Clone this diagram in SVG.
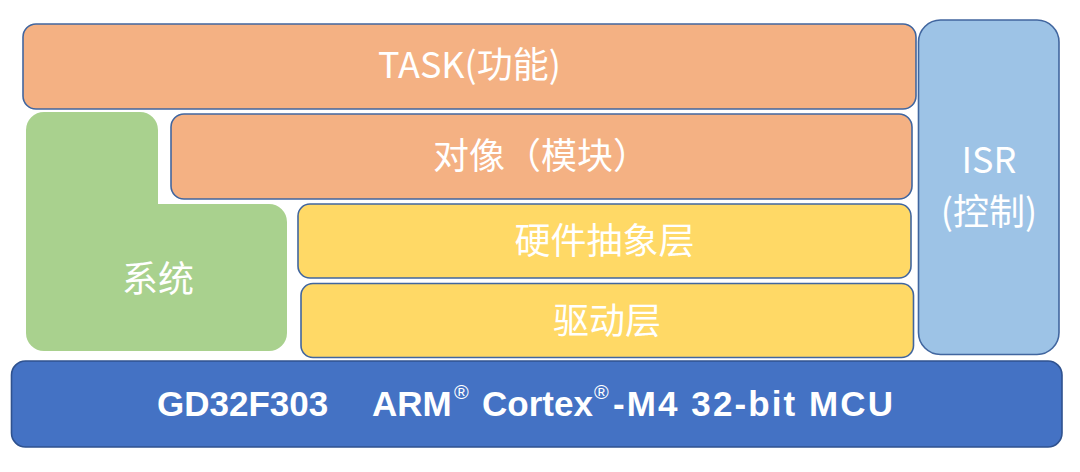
<svg xmlns="http://www.w3.org/2000/svg" width="1080" height="472" viewBox="0 0 1080 472">
<style>
.box{stroke:#41669F;stroke-width:1.6}
.orange{fill:#F4B183}
.yellow{fill:#FFD966}
.lblue{fill:#9DC3E6}
.blue{fill:#4472C4;stroke:#2F528F}
.green{fill:#A9D18E}
.t{font-family:"Noto Sans CJK SC","Noto Sans",sans-serif;font-size:36px;fill:#FFFFFF;text-anchor:middle}
.b{font-family:"Liberation Sans",Arial,sans-serif;font-size:35px;font-weight:bold;fill:#FFFFFF}
.sup{font-family:"Liberation Sans",Arial,sans-serif;font-size:20px;fill:#FFFFFF}
</style>
<rect width="1080" height="472" fill="#FFFFFF"/>
<g id="task">
<rect class="box orange" x="23" y="24" width="893" height="85" rx="13"/>
<text class="t" x="469.5" y="78">TASK(功能)</text>
</g>
<g id="system">
<path class="green" d="M26 130 A18 18 0 0 1 44 112 L140 112 A18 18 0 0 1 158 130 L158 204 L269 204 A18 18 0 0 1 287 222 L287 333 A18 18 0 0 1 269 351 L44 351 A18 18 0 0 1 26 333 Z"/>
<text class="t" x="158" y="292">系统</text>
</g>
<g id="object">
<rect class="box orange" x="171" y="114" width="741" height="85" rx="13"/>
<text class="t" x="541" y="169">对像（模块）</text>
</g>
<g id="hal">
<rect class="box yellow" x="298" y="204" width="613" height="74" rx="12"/>
<text class="t" x="604.5" y="254">硬件抽象层</text>
</g>
<g id="driver">
<rect class="box yellow" x="301" y="283.5" width="612.5" height="74" rx="12"/>
<text class="t" x="607" y="334">驱动层</text>
</g>
<g id="isr">
<rect class="box lblue" x="918.5" y="20" width="140.5" height="334.5" rx="22"/>
<text class="t" x="989" y="173">ISR</text>
<text class="t" x="989" y="225">(控制)</text>
</g>
<g id="mcu">
<rect class="box blue" x="11.5" y="361" width="1050.5" height="86" rx="14"/>
<text class="b" x="157" y="416">GD32F303</text>
<text class="b" x="372" y="416">ARM</text>
<text class="sup" x="454" y="399">®</text>
<text class="b" x="482" y="416">Cortex</text>
<text class="sup" x="594" y="399">®</text>
<text class="b" x="613" y="416" textLength="280" lengthAdjust="spacing">-M4 32-bit MCU</text>
</g>
<g id="connectors"></g>
</svg>
